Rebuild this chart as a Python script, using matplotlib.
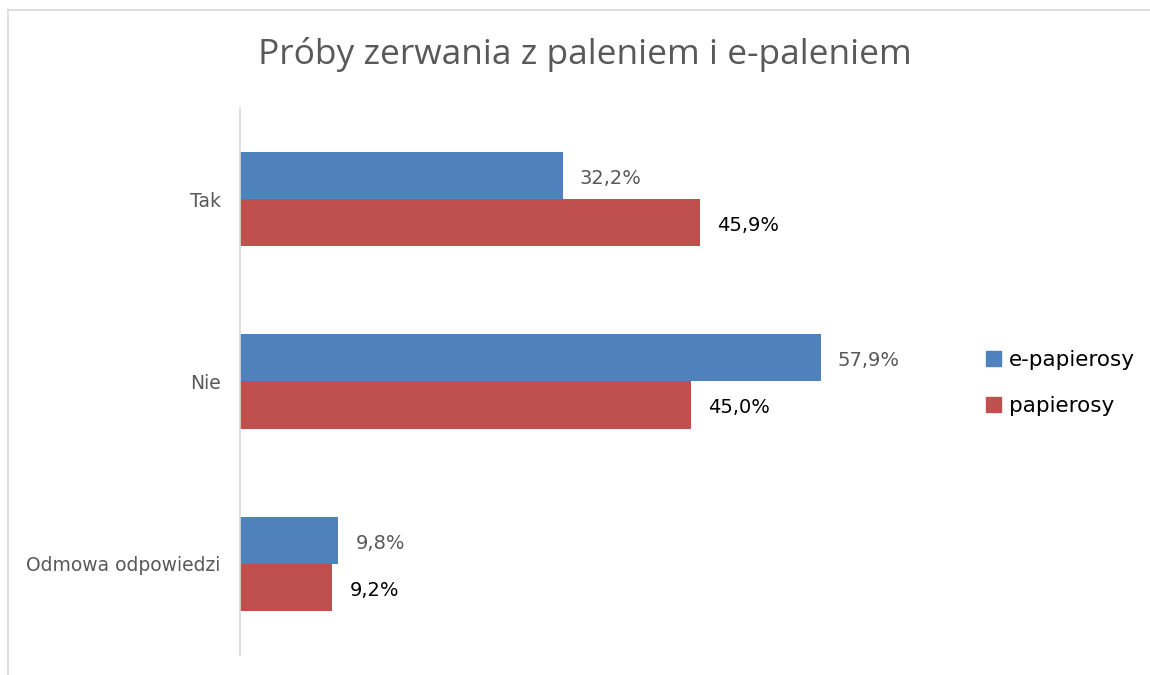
import matplotlib.pyplot as plt
from matplotlib.patches import Patch
from matplotlib.lines import Line2D

# dane
kategorie = ["Tak", "Nie", "Odmowa odpowiedzi"]
e_papierosy = [32.2, 57.9, 9.8]
papierosy = [45.9, 45.0, 9.2]
etykiety_e = ["32,2%", "57,9%", "9,8%"]
etykiety_p = ["45,9%", "45,0%", "9,2%"]

NIEBIESKI = "#4F81BD"
CZERWONY = "#C0504D"
SZARY = "#595959"

fig = plt.figure(figsize=(11.5, 6.75), dpi=100)
ax = fig.add_axes([240 / 1150, 1 - 655 / 675, 702 / 1150, 547 / 675])

pos = list(range(len(kategorie)))
h = 0.258
ax.barh([p - h / 2 for p in pos], e_papierosy, height=h, color=NIEBIESKI, label="e-papierosy")
ax.barh([p + h / 2 for p in pos], papierosy, height=h, color=CZERWONY, label="papierosy")

# etykiety danych
for p, v, t in zip(pos, e_papierosy, etykiety_e):
    ax.text(v + 1.7, p - h / 2 + 0.015, t, va="center", ha="left", fontsize=14, color=SZARY)
for p, v, t in zip(pos, papierosy, etykiety_p):
    ax.text(v + 1.7, p + h / 2 + 0.015, t, va="center", ha="left", fontsize=14, color="black")

ax.set_xlim(0, 70)
ax.set_ylim(2.5, -0.5)
ax.set_yticks(pos)
ax.set_yticklabels(kategorie, fontsize=13.5, color=SZARY)
ax.tick_params(axis="y", length=0, pad=14)
ax.set_xticks([])
for s in ["top", "right", "bottom"]:
    ax.spines[s].set_visible(False)
ax.spines["left"].set_color("#D9D9D9")
ax.spines["left"].set_linewidth(1.2)

fig.text(585 / 1150, 1 - 55 / 675, "Próby zerwania z paleniem i e-paleniem",
         ha="center", va="center", fontsize=25.5, color=SZARY, family="Open Sans")

uchwyty = [Patch(color=NIEBIESKI), Patch(color=CZERWONY)]
fig.legend(uchwyty, ["e-papierosy", "papierosy"], loc="center left",
           bbox_to_anchor=(967 / 1150, 1 - 383 / 675), frameon=False,
           fontsize=15.5, handlelength=0.7, handleheight=0.7, handletextpad=0.35,
           labelspacing=1.2)

# ramka wykresu
fig.add_artist(Line2D([8 / 1150, 8 / 1150], [0, 1 - 10 / 675], color="#D9D9D9", lw=1.2))
fig.add_artist(Line2D([8 / 1150, 1], [1 - 10 / 675, 1 - 10 / 675], color="#D9D9D9", lw=1.2))

fig.savefig("out.png", dpi=100, facecolor="white")
